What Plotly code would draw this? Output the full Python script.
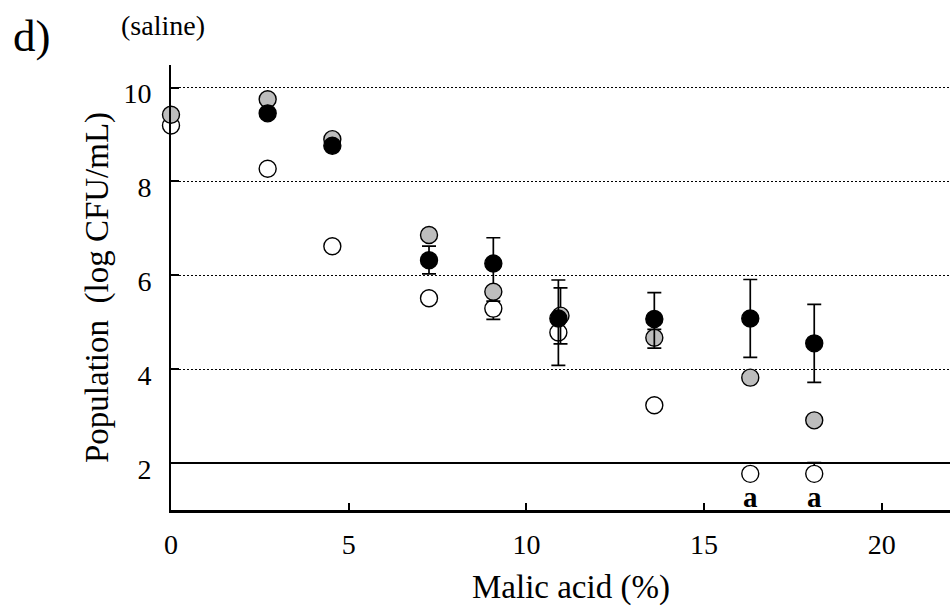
import plotly.graph_objects as go

# ---- data ----
conc = [0, 2.72, 4.54, 7.26, 9.07, 10.9, 13.6, 16.3, 18.1]

white_y = [9.19, 8.27, 6.62, 5.51, 5.29, 4.78, 3.23, 1.77, 1.77]
white_err_plus = [0, 0, 0, 0, 0, 0, 0, 0, 0.24]
white_err_minus = [0, 0, 0, 0, 0.23, 0, 0, 0, 0]

gray_x = [0, 2.72, 4.54, 7.26, 9.07, 10.96, 13.6, 16.3, 18.1]
gray_y = [9.42, 9.75, 8.90, 6.86, 5.65, 5.14, 4.67, 3.82, 2.91]
gray_err_plus = [0, 0, 0, 0, 0.5, 0.59, 0.18, 0, 0]
gray_err_minus = [0, 0, 0, 0, 0.2, 0.6, 0, 0, 0]

black_y = [None, 9.45, 8.76, 6.32, 6.25, 5.08, 5.07, 5.08, 4.55]
black_err_plus = [0, 0, 0, 0.30, 0.55, 0.82, 0.56, 0.83, 0.83]
black_err_minus = [0, 0, 0, 0.29, 0, 1.0, 0.62, 0.83, 0.83]

below_limit_x = [16.3, 18.1]
below_limit_y = [1.77, 1.77]
below_limit_label = ["a", "a"]

x_ticks = [0, 5, 10, 15, 20]
y_ticks = [2, 4, 6, 8, 10]
detection_limit = 2

W, H = 950, 608
L, R, T, B = 171, 0, 65, 98
PW, PH = W - L - R, H - T - B


def px2paper(px, py):
    return (px - L) / PW, (H - B - py) / PH


FONT = "Liberation Serif"

fig = go.Figure()

def add_series(x, y, ep, em, fill):
    fig.add_trace(go.Scatter(
        x=x, y=y, mode="markers",
        marker=dict(size=17, color=fill, line=dict(color="black", width=1.4)),
        error_y=dict(type="data", symmetric=False, array=ep, arrayminus=em,
                     color="black", thickness=1.7, width=7),
        cliponaxis=False, showlegend=False, hoverinfo="skip",
    ))

add_series(conc, white_y, white_err_plus, white_err_minus, "white")
add_series(gray_x, gray_y, gray_err_plus, gray_err_minus, "#bdbdbd")
add_series(conc, black_y, black_err_plus, black_err_minus, "black")

fig.update_layout(
    width=W, height=H,
    margin=dict(l=L, r=R, t=T, b=B),
    plot_bgcolor="white", paper_bgcolor="white",
    showlegend=False,
    font=dict(family=FONT, color="black"),
)

fig.update_xaxes(
    range=[0, 21.92], tickvals=x_ticks, ticktext=[str(v) for v in x_ticks],
    ticks="inside", ticklen=7, tickwidth=1.5, tickcolor="black",
    showline=True, linewidth=2.5, linecolor="black",
    showgrid=False, zeroline=False,
    tickfont=dict(family=FONT, size=28, color="black"),
    ticklabelstandoff=8,
)
fig.update_yaxes(
    range=[1, 10.48], tickvals=y_ticks, ticktext=[str(v) for v in y_ticks],
    ticks="inside", ticklen=8, tickwidth=1.5, tickcolor="black",
    showline=True, linewidth=2, linecolor="black",
    showgrid=True, gridcolor="black", gridwidth=1, griddash="2px,2px",
    zeroline=False,
    tickfont=dict(family=FONT, size=28, color="black"),
    ticklabelstandoff=12, ticklabelshift=6,
)

# solid detection-limit line
fig.add_shape(type="line", xref="paper", yref="y", x0=0, x1=1,
              y0=detection_limit, y1=detection_limit,
              line=dict(color="black", width=2), layer="between")

# "a" labels under the below-detection points
for xv, yv, t in zip(below_limit_x, below_limit_y, below_limit_label):
    fig.add_annotation(x=xv, y=yv, xref="x", yref="y", text=f"<b>{t}</b>",
                       showarrow=False, yshift=-23,
                       font=dict(family=FONT, size=29, color="black"))

def text_at(px, py, text, size, angle=0):
    xp, yp = px2paper(px, py)
    fig.add_annotation(x=xp, y=yp, xref="paper", yref="paper", text=text,
                       showarrow=False, textangle=angle,
                       xanchor="center", yanchor="middle",
                       font=dict(family=FONT, size=size, color="black"))

text_at(32, 36, "d)", 45)
text_at(163, 25, "(saline)", 28)
text_at(571, 587, "Malic acid (%)", 33)
text_at(97, 288, "Population\u00a0\u00a0(log CFU/mL)", 33, angle=-90)

fig.write_html("out.html")
